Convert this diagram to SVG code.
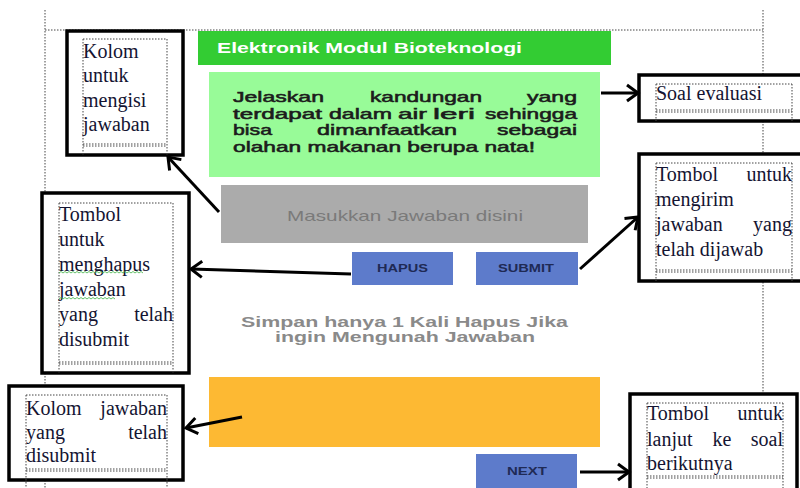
<svg xmlns="http://www.w3.org/2000/svg" width="800" height="488" viewBox="0 0 800 488">
<defs>
<style>
.dot{fill:none;stroke:#444;stroke-width:1;stroke-dasharray:1.5 1.5}
.box{fill:#fff;stroke:#000;stroke-width:3.5}
.note{font-family:"Liberation Serif","Times New Roman",serif;font-size:20px;fill:#141432}
.q{font-family:"Liberation Sans",Arial,sans-serif;font-size:15px;fill:#1c1c1c;stroke:#1c1c1c;stroke-width:0.55}
.btn{font-family:"Liberation Sans",Arial,sans-serif;font-weight:bold;font-size:10.5px;fill:#1f2a55;text-anchor:middle}
.sans{font-family:"Liberation Sans",Arial,sans-serif}
.arrow{fill:none;stroke:#000;stroke-width:3;marker-end:url(#ah)}
.wavy{fill:none;stroke:#3cb043;stroke-width:0.8}
</style>
<marker id="ah" markerUnits="userSpaceOnUse" markerWidth="20" markerHeight="20" viewBox="0 0 20 20" refX="17" refY="10" orient="auto">
<path d="M6,2 L17,10 L6,18" fill="none" stroke="#000" stroke-width="3"/>
</marker>
</defs>
<rect width="800" height="488" fill="#fff"/>

<g id="page-border">
<path class="dot" d="M45,10V193M45,373V386M45,480V488M45,30H763M763,10V74M763,121V154M763,282V394"/>
</g>

<g id="header">
<rect x="198" y="31" width="413" height="34" fill="#33cc33"/>
<text class="sans" x="217" y="53" font-weight="bold" font-size="15.5" fill="#fff" textLength="305" lengthAdjust="spacingAndGlyphs">Elektronik Modul Bioteknologi</text>
</g>

<g id="question">
<rect x="209" y="72" width="391" height="105" fill="#98fb98"/>
<text class="q" x="233" y="102" textLength="91" lengthAdjust="spacingAndGlyphs">Jelaskan</text>
<text class="q" x="370" y="102" textLength="112" lengthAdjust="spacingAndGlyphs">kandungan</text>
<text class="q" x="527" y="102" textLength="50" lengthAdjust="spacingAndGlyphs">yang</text>
<text class="q" x="233" y="118.5" textLength="89" lengthAdjust="spacingAndGlyphs">terdapat</text>
<text class="q" x="329" y="118.5" textLength="63" lengthAdjust="spacingAndGlyphs">dalam</text>
<text class="q" x="398" y="118.5" textLength="29" lengthAdjust="spacingAndGlyphs">air</text>
<text class="q" x="433" y="118.5" textLength="42" lengthAdjust="spacingAndGlyphs">leri</text>
<text class="q" x="485" y="118.5" textLength="92" lengthAdjust="spacingAndGlyphs">sehingga</text>
<text class="q" x="233" y="135" textLength="39" lengthAdjust="spacingAndGlyphs">bisa</text>
<text class="q" x="317" y="135" textLength="140" lengthAdjust="spacingAndGlyphs">dimanfaatkan</text>
<text class="q" x="497" y="135" textLength="80" lengthAdjust="spacingAndGlyphs">sebagai</text>
<text class="q" x="233" y="151.5" textLength="302" lengthAdjust="spacingAndGlyphs">olahan makanan berupa nata!</text>
</g>

<g id="input">
<rect x="221" y="185" width="367" height="58" fill="#ababab"/>
<text class="sans" x="287" y="221" font-size="15" fill="#7a7a7a" textLength="236" lengthAdjust="spacingAndGlyphs">Masukkan Jawaban disini</text>
</g>

<g id="hapus">
<rect x="352" y="252" width="101" height="33" fill="#5d7bcb"/>
<text class="btn" x="402.5" y="272" textLength="51" lengthAdjust="spacingAndGlyphs">HAPUS</text>
</g>

<g id="submit">
<rect x="476" y="252" width="102" height="33" fill="#5d7bcb"/>
<text class="btn" x="526" y="272" textLength="56" lengthAdjust="spacingAndGlyphs">SUBMIT</text>
</g>

<g id="info">
<text class="sans" x="241" y="326.5" font-weight="bold" font-size="14" fill="#8a8a8a" textLength="327" lengthAdjust="spacingAndGlyphs">Simpan hanya 1 Kali Hapus Jika</text>
<text class="sans" x="275" y="342" font-weight="bold" font-size="14" fill="#8a8a8a" textLength="260" lengthAdjust="spacingAndGlyphs">ingin Mengunah Jawaban</text>
</g>

<g id="answer">
<rect x="209" y="377" width="391" height="70" fill="#fdb933"/>
</g>

<g id="next">
<rect x="476" y="454" width="101" height="36" fill="#5d7bcb"/>
<text class="btn" x="527" y="475" textLength="40" lengthAdjust="spacingAndGlyphs">NEXT</text>
</g>

<g id="note-kolom-isi">
<rect class="box" x="67" y="31" width="116" height="124"/>
<path class="dot" d="M83,39H167M83,39V155M167,39V155M83,144H167M83,146H167"/>
<text class="note" x="83" y="58">Kolom</text>
<text class="note" x="83" y="82">untuk</text>
<text class="note" x="83" y="107">mengisi</text>
<text class="note" x="83" y="131">jawaban</text>
</g>

<g id="note-soal">
<rect class="box" x="639" y="75" width="170" height="46"/>
<path class="dot" d="M656,84H792M656,84V121M792,84V121M656,110H792M656,112H792"/>
<text class="note" x="656" y="100">Soal evaluasi</text>
</g>

<g id="note-kirim">
<rect class="box" x="639" y="154" width="170" height="127"/>
<path class="dot" d="M656,163H792M656,163V281M792,163V281M656,270H792M656,272H792"/>
<text class="note" x="656" y="181">Tombol</text>
<text class="note" x="792" y="181" text-anchor="end">untuk</text>
<text class="note" x="656" y="206">mengirim</text>
<text class="note" x="656" y="231">jawaban</text>
<text class="note" x="792" y="231" text-anchor="end">yang</text>
<text class="note" x="656" y="256">telah dijawab</text>
</g>

<g id="note-hapus">
<rect class="box" x="42" y="193" width="147" height="180"/>
<path class="dot" d="M59,203H173M59,203V373M173,203V373M59,362H173M59,364H173"/>
<text class="note" x="59" y="221">Tombol</text>
<text class="note" x="59" y="246">untuk</text>
<text class="note" x="59" y="271">menghapus</text>
<text class="note" x="59" y="296">jawaban</text>
<text class="note" x="59" y="321">yang</text>
<text class="note" x="173" y="321" text-anchor="end">telah</text>
<text class="note" x="59" y="346">disubmit</text>
<path class="wavy" d="M59,273l2,-1.5l2,1.5l2,-1.5l2,1.5l2,-1.5l2,1.5l2,-1.5l2,1.5l2,-1.5l2,1.5l2,-1.5l2,1.5l2,-1.5l2,1.5l2,-1.5l2,1.5l2,-1.5l2,1.5l2,-1.5l2,1.5l2,-1.5l2,1.5l2,-1.5l2,1.5l2,-1.5l2,1.5l2,-1.5l2,1.5l2,-1.5l2,1.5l2,-1.5l2,1.5l2,-1.5l2,1.5l2,-1.5l2,1.5l2,-1.5l2,1.5l2,-1.5l2,1.5l2,-1.5l2,1.5"/>
<path class="wavy" d="M59,299l2,-1.5l2,1.5l2,-1.5l2,1.5l2,-1.5l2,1.5l2,-1.5l2,1.5l2,-1.5l2,1.5l2,-1.5l2,1.5l2,-1.5l2,1.5l2,-1.5l2,1.5l2,-1.5l2,1.5l2,-1.5l2,1.5l2,-1.5l2,1.5l2,-1.5l2,1.5l2,-1.5l2,1.5l2,-1.5l2,1.5"/>
</g>

<g id="note-kolom-submit">
<rect class="box" x="9" y="386" width="174" height="94"/>
<path class="dot" d="M26,395H167M26,395V488M167,395V488M26,469H167M26,471H167"/>
<text class="note" x="26" y="415">Kolom</text>
<text class="note" x="167" y="415" text-anchor="end">jawaban</text>
<text class="note" x="26" y="438.5">yang</text>
<text class="note" x="167" y="438.5" text-anchor="end">telah</text>
<text class="note" x="26" y="462">disubmit</text>
</g>

<g id="note-next">
<rect class="box" x="630" y="394" width="167" height="100"/>
<path class="dot" d="M647,403H783M647,403V488M783,403V488M647,476H783M647,478H783"/>
<text class="note" x="647" y="420" font-size="19.5">Tombol</text>
<text class="note" x="783" y="420" text-anchor="end" font-size="19.5">untuk</text>
<text class="note" x="647" y="446" font-size="19.5">lanjut</text>
<text class="note" x="722" y="446" text-anchor="middle" font-size="19.5">ke</text>
<text class="note" x="783" y="446" text-anchor="end" font-size="19.5">soal</text>
<text class="note" x="647" y="470" font-size="19.5">berikutnya</text>
</g>

<g id="connectors">
<path class="arrow" d="M219,212L168,157"/>
<path class="arrow" d="M601,93L638,93"/>
<path class="arrow" d="M580,269L638,217"/>
<path class="arrow" d="M351,274L191,269"/>
<path class="arrow" d="M242,417L186,428"/>
<path class="arrow" d="M580,472L629,472"/>
</g>
</svg>
